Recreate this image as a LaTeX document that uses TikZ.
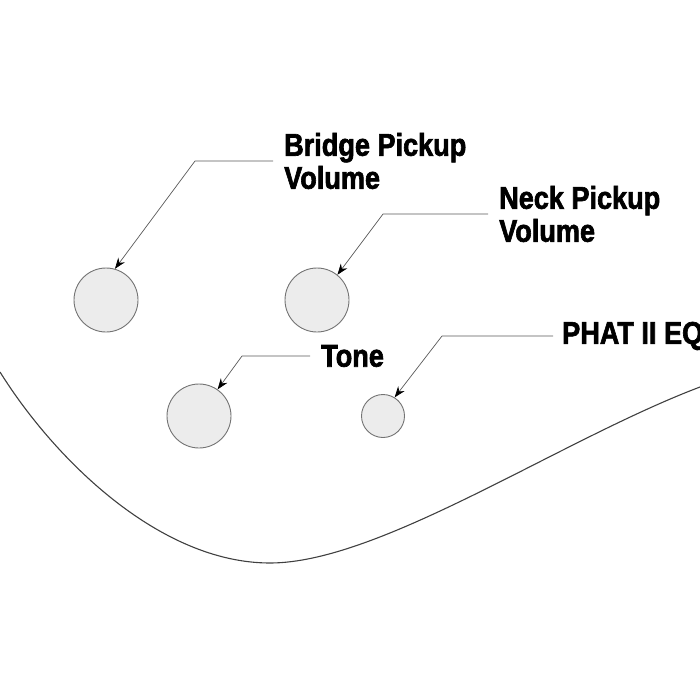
\documentclass[tikz,border=0pt]{standalone}
\usepackage{fontspec}
\setmainfont[FakeStretch=0.86, BoldFeatures={FakeBold=2}]{Liberation Sans}
\usepackage{tikz}
\usetikzlibrary{arrows.meta}
\tikzstyle{knob}    = [circle, draw=black!55, line width=0.9pt, fill=gray!15,
                       inner sep=0pt, minimum size=64pt]
\tikzstyle{label}   = [font=\bfseries\fontsize{31.5}{33}\selectfont, align=left,
                       anchor=west, inner xsep=11pt, inner ysep=0pt]
\tikzstyle{leader}  = [draw=black!65, line width=0.7pt,
                       -{Stealth[length=11pt, width=8pt, black]}]

\begin{document}
\begin{tikzpicture}[x=1pt, y=-1pt]
\clip (0,0) rectangle (700,700);
\node (bridge) [knob] at (106,300) {};
\node (neck) [knob] at (317,300) {};
\node (tone) [knob] at (199,416) {};
\node (phat) [knob, minimum size=43pt] at (383,416) {};
\node (bridge label) [label] at (273,161) {Bridge Pickup\\Volume};
\node (neck label) [label] at (488,214) {Neck Pickup\\Volume};
\node (tone label) [label] at (310,356) {Tone};
\node (phat label) [label, inner xsep=9pt] at (553,336) {PHAT II EQ};
\draw [leader] (bridge label.west) -- ++(-78,0) -- (bridge.74);
\draw [leader] (neck label.west) -- ++(-105,0) -- (neck.51);
\draw [leader] (tone label.west) -- ++(-68,0) -- (tone.55);
\draw [leader] (phat label.west) -- ++(-111,0) -- (phat.58);
% body edge
\draw [black!75, line width=1.1pt] (0,372) .. controls (55,460) and (160,563) .. (270,563)
      .. controls (380,563) and (560,440) .. (700,387);
\end{tikzpicture}
\end{document}
